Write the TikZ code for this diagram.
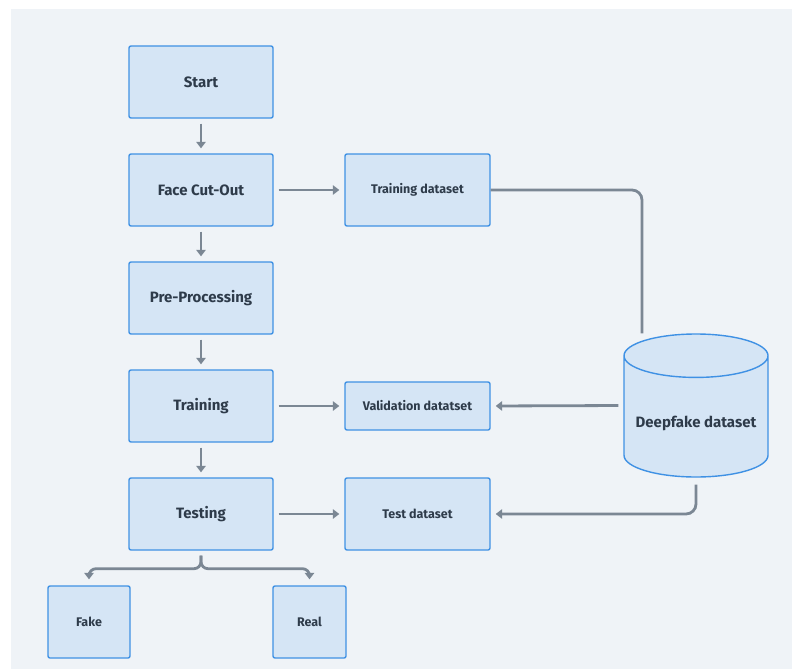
\documentclass[tikz,border=0pt]{standalone}
\usepackage{fontspec}
\setmainfont{Fira Sans}
\usetikzlibrary{arrows.meta,shapes.geometric}

\definecolor{bgcol}{HTML}{EFF3F7}
\definecolor{boxfill}{HTML}{D5E5F5}
\definecolor{boxline}{HTML}{3F91E4}
\definecolor{flowcol}{HTML}{7B8794}
\definecolor{txtcol}{HTML}{2E3B4A}

\tikzset{
  stepbox/.style={rectangle, draw=boxline, fill=boxfill, line width=1.4pt, rounded corners=2pt,
    minimum width=144pt, minimum height=72pt, inner sep=0pt, text=txtcol, font=\fontsize{15}{17}\selectfont\bfseries},
  databox/.style={stepbox, minimum width=145pt, font=\fontsize{12.5}{14}\selectfont\bfseries},
  flow/.style={draw=flowcol, line width=2.8pt, -{Triangle[width=9.5pt,length=6.5pt]}, shorten <=5pt, shorten >=5pt}
}

\begin{document}
\begin{tikzpicture}[x=1pt,y=-1pt]
        % Background
        \useasboundingbox (0,0) rectangle (792,669);
        \fill[bgcol] (11,9) rectangle (792,669);

        % Draw steps
        \node[stepbox] (start) at (201,82) {Start};
        \node[stepbox] (face) at (201,190) {Face Cut-Out};
        \node[stepbox] (prep) at (201,298) {Pre-Processing};
        \node[stepbox] (train) at (201,406) {Training};
        \node[stepbox] (test) at (201,514) {Testing};

        % Draw results
        \node[databox, minimum width=82pt] (fake) at (89,622) {Fake};
        \node[databox, minimum width=73pt] (real) at (309.5,622) {Real};

        % Draw datasets
        \node[databox] (trainset) at (417.5,190) {Training dataset};
        \node[databox, minimum height=48pt] (valset) at (417.5,406) {Validation datatset};
        \node[databox] (testset) at (417.5,514) {Test dataset};
        \node[cylinder, shape border rotate=90, aspect=0.36, draw=boxline, fill=boxfill, line width=1.4pt,
          minimum width=144pt, minimum height=143pt, inner sep=0pt, text=txtcol, anchor=shape center,
          font=\fontsize{15}{17}\selectfont\bfseries] (deepfake) at (696,405.5) {\raisebox{-10.5pt}[0pt][0pt]{Deepfake dataset}};

        % Draw flow
        \foreach \a/\b in {start/face, face/prep, prep/train, train/test}
          \draw[flow] (\a) -- (\b);
        \draw[flow] (face) -- (trainset);
        \draw[flow] (train) -- (valset);
        \draw[flow] (test) -- (testset);

        % Draw split
        \draw[flow, rounded corners=7pt, shorten >=6pt] (test.south) -- ++(0,18) -| (fake.north);
        \draw[flow, rounded corners=7pt, shorten >=6pt] (test.south) -- ++(0,18) -| (real.north);

        % Draw dataset links
        \draw[flowcol, line width=2.8pt, rounded corners=10pt] (trainset.east) -| ([xshift=-54pt]deepfake.top);
        \draw[flow] (deepfake.shape center -| deepfake.west) -- (valset.east);
        \draw[flow, rounded corners=10pt, shorten <=0pt] ([yshift=-7pt]deepfake.bottom) |- (testset.east);
\end{tikzpicture}
\end{document}
